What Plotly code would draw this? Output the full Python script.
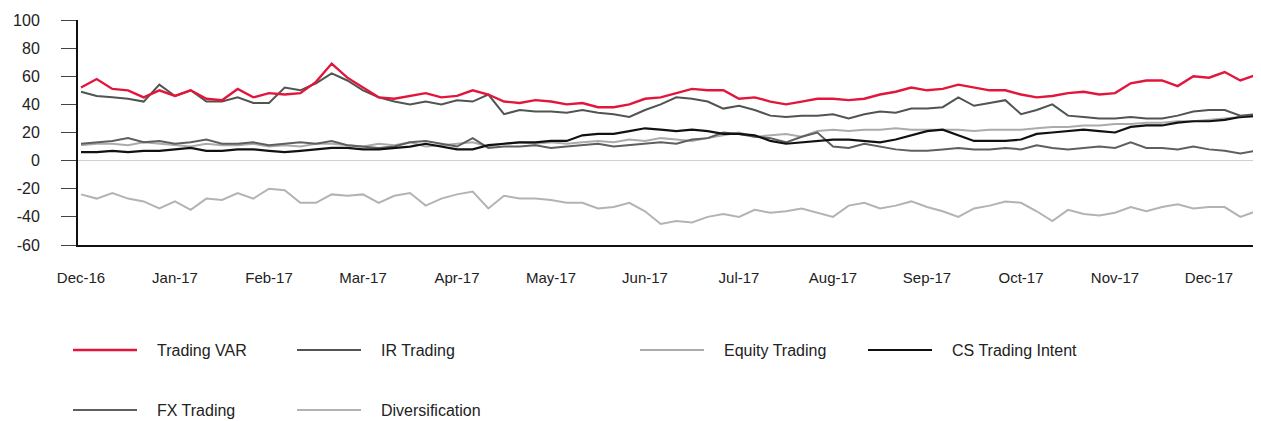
import plotly.graph_objects as go

# x positions in months since Dec-16 (step = 1/6 month)
months = [k / 6 for k in range(76)]
tick_labels = ["Dec-16", "Jan-17", "Feb-17", "Mar-17", "Apr-17", "May-17", "Jun-17",
               "Jul-17", "Aug-17", "Sep-17", "Oct-17", "Nov-17", "Dec-17"]

trading_var = [52, 58, 51, 50, 45, 50, 46, 50, 44, 43, 51, 45, 48, 47, 48, 56, 69, 59, 52, 45,
               44, 46, 48, 45, 46, 50, 47, 42, 41, 43, 42, 40, 41, 38, 38, 40, 44, 45, 48, 51,
               50, 50, 44, 45, 42, 40, 42, 44, 44, 43, 44, 47, 49, 52, 50, 51, 54, 52, 50, 50,
               47, 45, 46, 48, 49, 47, 48, 55, 57, 57, 53, 60, 59, 63, 57, 61]
ir_trading = [49, 46, 45, 44, 42, 54, 46, 50, 42, 42, 45, 41, 41, 52, 50, 55, 62, 57, 50, 45,
              42, 40, 42, 40, 43, 42, 47, 33, 36, 35, 35, 34, 36, 34, 33, 31, 36, 40, 45, 44,
              42, 37, 39, 36, 32, 31, 32, 32, 33, 30, 33, 35, 34, 37, 37, 38, 45, 39, 41, 43,
              33, 36, 40, 32, 31, 30, 30, 31, 30, 30, 32, 35, 36, 36, 32, 33]
equity_trading = [11, 12, 12, 11, 13, 12, 11, 10, 12, 11, 11, 12, 10, 11, 10, 12, 12, 11, 10, 12,
                  11, 13, 10, 11, 12, 13, 10, 12, 13, 12, 13, 12, 13, 14, 13, 15, 14, 16, 15, 14,
                  16, 18, 20, 17, 18, 19, 17, 21, 22, 21, 22, 22, 23, 22, 22, 22, 22, 21, 22, 22,
                  22, 23, 24, 24, 25, 25, 26, 26, 27, 27, 28, 28, 29, 30, 31, 31]
cs_trading_intent = [6, 6, 7, 6, 7, 7, 8, 9, 7, 7, 8, 8, 7, 6, 7, 8, 9, 9, 8, 8,
                     9, 10, 12, 10, 8, 8, 11, 12, 13, 13, 14, 14, 18, 19, 19, 21, 23, 22, 21, 22,
                     21, 19, 19, 18, 14, 12, 13, 14, 15, 15, 14, 13, 15, 18, 21, 22, 18, 14, 14, 14,
                     15, 19, 20, 21, 22, 21, 20, 24, 25, 25, 27, 28, 28, 29, 31, 32]
fx_trading = [12, 13, 14, 16, 13, 14, 12, 13, 15, 12, 12, 13, 11, 12, 13, 12, 14, 11, 10, 9,
              10, 13, 14, 12, 10, 16, 9, 10, 10, 11, 9, 10, 11, 12, 10, 11, 12, 13, 12, 15,
              16, 20, 19, 17, 16, 13, 17, 20, 10, 9, 12, 10, 8, 7, 7, 8, 9, 8, 8, 9,
              8, 11, 9, 8, 9, 10, 9, 13, 9, 9, 8, 10, 8, 7, 5, 7]
diversification = [-24, -27, -23, -27, -29, -34, -29, -35, -27, -28, -23, -27, -20, -21, -30, -30, -24, -25, -24, -30,
                   -25, -23, -32, -27, -24, -22, -34, -25, -27, -27, -28, -30, -30, -34, -33, -30, -36, -45, -43, -44,
                   -40, -38, -40, -35, -37, -36, -34, -37, -40, -32, -30, -34, -32, -29, -33, -36, -40, -34, -32, -29,
                   -30, -36, -43, -35, -38, -39, -37, -33, -36, -33, -31, -34, -33, -33, -40, -36]

series_names = ["Trading VAR", "IR Trading", "Equity Trading", "CS Trading Intent", "FX Trading", "Diversification"]
series_values = [trading_var, ir_trading, equity_trading, cs_trading_intent, fx_trading, diversification]
colors = ["#E2163C", "#4f5550", "#ababab", "#111111", "#5f5f5f", "#b3b3b3"]
widths = [2.4, 2, 2, 2.2, 2, 2]

fig = go.Figure()
draw_order = [5, 2, 4, 3, 1, 0]
for i in draw_order:
    fig.add_trace(go.Scatter(x=months, y=series_values[i], mode="lines", name=series_names[i],
                             line=dict(color=colors[i], width=widths[i]), showlegend=False))

# page offset of the figure (default body margin)
OFF = 8
W, H = 1253, 413
plot_l, plot_r, plot_t, plot_b = 78 - OFF, 1261 - OFF, 20 - OFF, 245 - OFF
pw, ph = plot_r - plot_l, plot_b - plot_t
def px_x(p):
    return (p - OFF - plot_l) / pw
def px_y(p):
    return (plot_b - (p - OFF)) / ph

legend_pos = [(73, 350), (297, 350), (640, 350), (868, 350), (73, 410), (297, 410)]
legend_order = [0, 1, 2, 3, 4, 5]
for (lx, ly), i in zip(legend_pos, legend_order):
    fig.add_shape(type="line", xref="paper", yref="paper",
                  x0=px_x(lx), x1=px_x(lx + 64), y0=px_y(ly), y1=px_y(ly),
                  line=dict(color=colors[i], width=2.4 if i == 0 else 2))
    fig.add_annotation(xref="paper", yref="paper", x=px_x(lx + 82), y=px_y(ly),
                       text=series_names[i], showarrow=False, xanchor="left", yanchor="middle",
                       font=dict(family="Liberation Sans, Arial, sans-serif", size=16, color="#222"))

y_ticks = [100, 80, 60, 40, 20, 0, -20, -40, -60]
fig.update_layout(
    width=W, height=H,
    margin=dict(l=plot_l, r=W - plot_r, t=plot_t, b=H - plot_b),
    paper_bgcolor="white", plot_bgcolor="white",
    font=dict(family="Liberation Sans, Arial, sans-serif", size=15, color="#222"),
    xaxis=dict(range=[-0.032, 12.553], tickmode="array", tickvals=list(range(13)),
               ticktext=tick_labels, showgrid=False, zeroline=False, showline=True,
               linecolor="#111", linewidth=2, ticks="", ticklabelstandoff=18,
               tickfont=dict(size=15)),
    yaxis=dict(range=[-60, 100], tickmode="array", tickvals=y_ticks,
               ticktext=[str(v) for v in y_ticks], showgrid=False,
               zeroline=True, zerolinecolor="#cfcfcf", zerolinewidth=1,
               showline=True, linecolor="#111", linewidth=2,
               ticks="outside", ticklen=15, tickcolor="#444", tickwidth=1,
               ticklabelstandoff=18, tickfont=dict(size=16)),
)

fig.write_html("out.html")
